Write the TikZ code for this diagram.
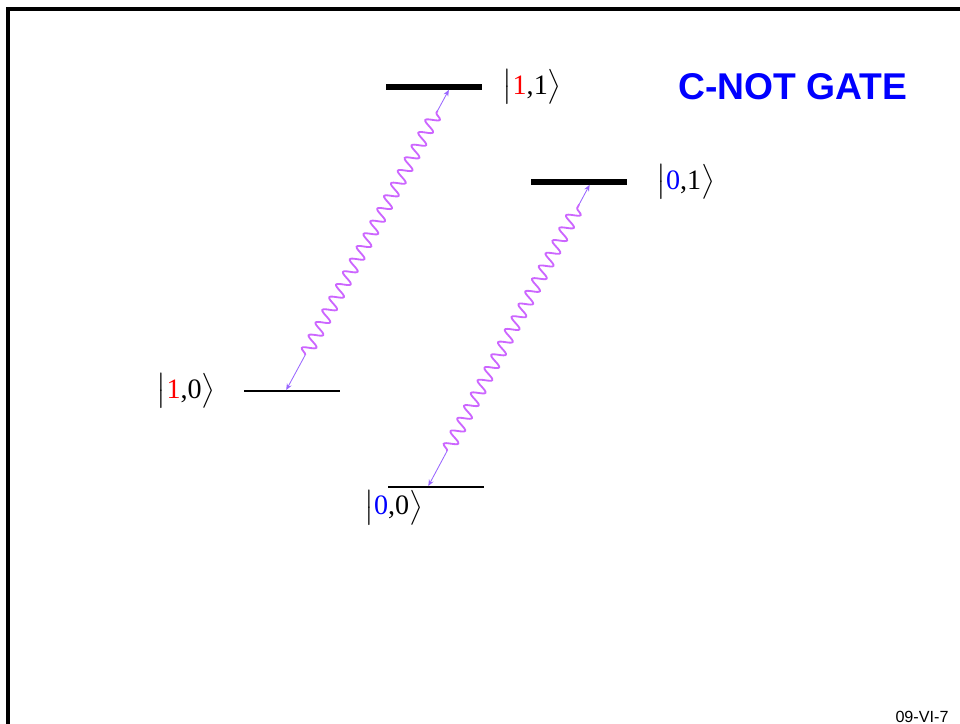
\documentclass[tikz,border=0pt]{standalone}
\usepackage{amsmath}
\usepackage{fontspec}
\newfontfamily\ketfont{Liberation Serif}
\newfontfamily\titlefont{Liberation Sans}
\usetikzlibrary{arrows.meta, positioning, calc, decorations.pathmorphing}
\definecolor{wave}{RGB}{204,102,255}
\definecolor{leadc}{RGB}{153,102,255}
\definecolor{qblue}{RGB}{0,0,255}

\begin{document}
\begin{tikzpicture}[
    level/.style={rectangle, fill=black, inner sep=0pt, minimum width=2.4cm, minimum height=#1},
    ket/.style={inner sep=0pt, font=\fontsize{20}{22}\selectfont},
    photon/.style={draw=wave, line width=1.3pt, decorate, decoration={snake, amplitude=1.6mm, segment length=3.6mm}},
    lead/.style={draw=leadc, line width=0.6pt, -{Stealth[length=1.6mm, width=1.3mm]}}
]
\useasboundingbox (0,0) rectangle (24,18.075);

% Frame
\draw[line width=2.2pt] (0.2,-0.2) -- (0.2,17.85) -- (24.2,17.85);

% Levels
\node[level=3.6pt] (l11) at (10.86,15.9) {};
\node[level=3.6pt] (l01) at (14.475,13.525) {};
\node[level=0.9pt] (l10) at (7.3,8.3) {};
\node[level=0.9pt] (l00) at (10.9,5.9) {};

% Kets
\node[ket, right=0.5cm of l11] (k11) {$\bigl|\mbox{\ketfont\textcolor{red}{1},1}\bigr\rangle$};
\node[ket, right=0.72cm of l01] (k01) {$\bigl|\mbox{\ketfont\textcolor{qblue}{0},1}\bigr\rangle$};
\node[ket, left=0.7cm of l10] (k10) {$\bigl|\mbox{\ketfont\textcolor{red}{1},0}\bigr\rangle$};
\node[ket, below=0.05cm of l00.south west, xshift=0.15cm] (k00) {$\bigl|\mbox{\ketfont\textcolor{qblue}{0},0}\bigr\rangle$};

% Title and tag
\node[font=\titlefont\bfseries\fontsize{26.5}{30}\selectfont, text=qblue] (title) at (19.825,15.9) {C-NOT GATE};
\node[font=\titlefont\fontsize{11.5}{13}\selectfont, anchor=base] (tag) at (23.05,0.02) {09-VI-7};

% Photon ends
\coordinate (a10) at ($(l10.north west)!0.44!(l10.north east)$);
\coordinate (a11) at ($(l11.south west)!0.65!(l11.south east)$);
\coordinate (a00) at ($(l00.north west)!0.42!(l00.north east)$);
\coordinate (a01) at ($(l01.south west)!0.61!(l01.south east)$);

% Photons
\draw[photon] ($(a10)!1cm!(a11)$) -- ($(a11)!0.6cm!(a10)$);
\draw[lead] ($(a10)!1cm!(a11)$) -- (a10);
\draw[lead] ($(a11)!0.6cm!(a10)$) -- (a11);

\draw[photon] ($(a00)!1cm!(a01)$) -- ($(a01)!0.55cm!(a00)$);
\draw[lead] ($(a00)!1cm!(a01)$) -- (a00);
\draw[lead] ($(a01)!0.55cm!(a00)$) -- (a01);

\end{tikzpicture}
\end{document}
